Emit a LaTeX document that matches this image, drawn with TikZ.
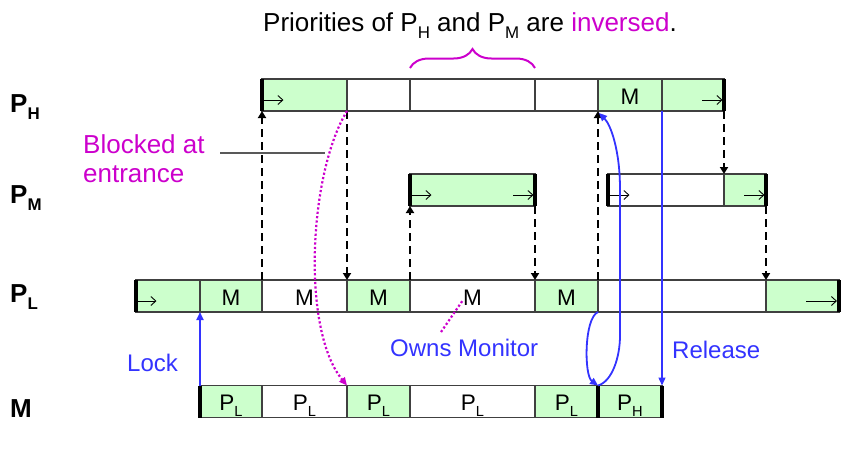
\documentclass[tikz,border=0pt]{standalone}
\usepackage{fontspec}
\setmainfont{Liberation Sans}
\usetikzlibrary{arrows.meta,decorations.pathreplacing,calc}
\definecolor{gfill}{RGB}{204,255,204}
\definecolor{mag}{RGB}{204,0,204}
\definecolor{blu}{RGB}{51,51,255}
\newcommand{\lsub}[1]{\raisebox{-0.27em}{\scalebox{0.65}{#1}}}
\tikzset{
  seg/.style={draw=black!75, line width=1.4pt, minimum height=32pt, inner sep=0pt, outer sep=0pt,
    anchor=west, text height=18pt, text depth=0pt, font=\fontsize{22.5}{26}\selectfont},
  gseg/.style={seg, fill=gfill},
  wseg/.style={seg, fill=white},
  thickbar/.style={line width=3.2pt},
  inarr/.style={line width=0.9pt, -{Straight Barb[length=5pt,width=9pt]}},
  dconn/.style={line width=1.9pt, dash pattern=on 8pt off 5pt, -{Triangle[length=7pt,width=8pt]}},
  bconn/.style={blu, line width=1.8pt, -{Triangle[length=8pt,width=7pt]}},
  mconn/.style={mag, line width=2.2pt, dash pattern=on 2.2pt off 2.2pt, -{Triangle[length=8pt,width=7pt]}},
  rowlabel/.style={anchor=base west, font=\fontsize{26}{30}\selectfont\bfseries, inner sep=0pt},
  lbl/.style={anchor=base west, font=\fontsize{24}{28}\selectfont, inner sep=0pt},
}
\begin{document}
\begin{tikzpicture}[x=1pt, y=-1pt]
\useasboundingbox (0,0) rectangle (841,475);

% title
\node[anchor=base, inner sep=0pt, font=\fontsize{26}{30}\selectfont] (title) at (470,31)
  {Priorities of P\lsub{H} and P\lsub{M} are \textcolor{mag}{inversed}.};

% row labels
\node[rowlabel] (lh) at (10,112) {P\lsub{H}};
\node[rowlabel] (lm) at (10,203) {P\lsub{M}};
\node[rowlabel] (ll) at (10,302) {P\lsub{L}};
\node[rowlabel] (lk) at (10,417) {M};

% P_H row
\node[gseg, minimum width=85pt] (h1) at (262,95) {};
\node[wseg, minimum width=63pt] (h2) at (347,95) {};
\node[wseg, minimum width=125pt] (h3) at (410,95) {};
\node[wseg, minimum width=63pt] (h4) at (535,95) {};
\node[gseg, minimum width=64pt] (h5) at (598,95) {M};
\node[gseg, minimum width=62pt] (h6) at (662,95) {};

% P_M row
\node[gseg, minimum width=125pt] (m1) at (410,190) {};
\node[wseg, minimum width=116pt] (m2) at (608,190) {};
\node[gseg, minimum width=42pt] (m3) at (724,190) {};

% P_L row
\node[gseg, minimum width=64pt] (l1) at (136,296) {};
\node[gseg, minimum width=62pt] (l2) at (200,296) {M};
\node[wseg, minimum width=85pt] (l3) at (262,296) {M};
\node[gseg, minimum width=63pt] (l4) at (347,296) {M};
\node[wseg, minimum width=125pt] (l5) at (410,296) {M};
\node[gseg, minimum width=63pt] (l6) at (535,296) {M};
\node[wseg, minimum width=168pt] (l7) at (598,296) {};
\node[gseg, minimum width=73pt] (l8) at (766,296) {};

% M row
\node[gseg, minimum width=62pt] (k1) at (200,401.5) {P\lsub{L}};
\node[wseg, minimum width=85pt] (k2) at (262,401.5) {P\lsub{L}};
\node[gseg, minimum width=63pt] (k3) at (347,401.5) {P\lsub{L}};
\node[wseg, minimum width=125pt] (k4) at (410,401.5) {P\lsub{L}};
\node[gseg, minimum width=63pt] (k5) at (535,401.5) {P\lsub{L}};
\node[gseg, minimum width=64pt] (k6) at (598,401.5) {P\lsub{H}};

% thick bars
\draw[thickbar] (h1.north west) -- (h1.south west);
\draw[thickbar] (h6.north east) -- (h6.south east);
\draw[thickbar] (m1.north west) -- (m1.south west);
\draw[thickbar] (m1.north east) -- (m1.south east);
\draw[thickbar] (m2.north west) -- (m2.south west);
\draw[thickbar] (m3.north east) -- (m3.south east);
\draw[thickbar] (l1.north west) -- (l1.south west);
\draw[thickbar] (l8.north east) -- (l8.south east);
\draw[thickbar] (k1.north west) -- (k1.south west);
\draw[thickbar] (k6.north west) -- (k6.south west);
\draw[thickbar] (k6.north east) -- (k6.south east);

% small arrows inside bars
\draw[inarr] (h1.west) ++(1.5,5) -- ++(20,0);
\draw[inarr] (h6.east) ++(-22,5) -- ++(20.5,0);
\draw[inarr] (m1.west) ++(1.5,5) -- ++(20,0);
\draw[inarr] (m1.east) ++(-22,5) -- ++(20.5,0);
\draw[inarr] (m2.west) ++(1.5,5) -- ++(20,0);
\draw[inarr] (m3.east) ++(-22,5) -- ++(20.5,0);
\draw[inarr] (l1.west) ++(1.5,5) -- ++(19,0);
\draw[inarr] (l8.east) ++(-33,5) -- ++(31,0);

% brace
\draw[mag, line width=2pt, decorate, decoration={brace, amplitude=19pt}]
  ($(h3.north west)+(0,-11)$) -- ($(h3.north east)+(0,-11)$);

% dashed connectors
\draw[dconn] (l3.north west) -- (h1.south west);
\draw[dconn] (h1.south east) -- (l4.north west);
\draw[dconn] (l5.north west) -- (m1.south west);
\draw[dconn] (m1.south east) -- (l6.north west);
\draw[dconn] (l7.north west) -- (h5.south west);
\draw[dconn] (h6.south east) -- (m3.north west);
\draw[dconn] (m3.south east) -- (l8.north west);

% blocked label
\node[lbl, font=\fontsize{26}{30}\selectfont, text=mag] (blk1) at (83,153) {Blocked at};
\node[lbl, font=\fontsize{26}{30}\selectfont, text=mag] (blk2) at (83,182) {entrance};
\coordinate (blkA) at (220,153);
\coordinate (blkB) at (325,153);
\draw[black!65, line width=1.3pt] (blkA) -- (blkB);

% magenta dotted curve
\draw[mconn] (h1.south east) .. controls +(-38,62) and +(-46,-56) .. (k3.north west);

% owns monitor
\node[lbl, text=blu] (own) at (390,356) {Owns Monitor};
\coordinate (ownA) at (441,332);
\coordinate (ownB) at (463,300);
\draw[mag, line width=2.2pt, dash pattern=on 2.2pt off 2.2pt] (ownA) -- (ownB);

% lock / release
\node[lbl, text=blu] (lock) at (127,371) {Lock};
\node[lbl, text=blu] (rel) at (672,358) {Release};
\draw[bconn] (k1.north west) -- (l2.south west);
\draw[bconn, line width=1.4pt] (h6.south west) -- (k6.north west -| h6.south west);

% loop curves
\draw[bconn] (l6.south east) .. controls +(-14,6) and +(-14,-10) .. (k6.north west);
\draw[bconn] (k6.north west) .. controls +(14,-4) and +(0,22) .. ($(k6.north west)+(22,-50)$)
  -- ($(h5.south west)+(22,78)$) .. controls +(0,-38) and +(12,12) .. ($(h5.south west)+(1,2)$);
\end{tikzpicture}
\end{document}
